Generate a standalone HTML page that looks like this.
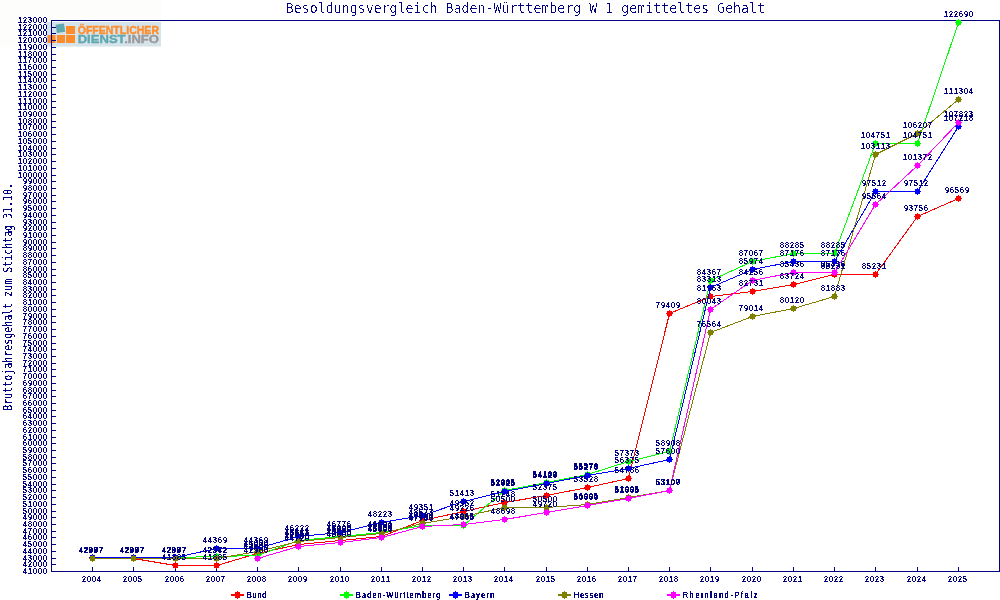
<!DOCTYPE html>
<html lang="de"><head><meta charset="utf-8"><title>Besoldungsvergleich Baden-Württemberg W 1 gemitteltes Gehalt</title>
<style>html,body{margin:0;padding:0;background:#fff}body{width:1000px;height:600px;overflow:hidden}svg{display:block}.s{font-family:"Liberation Sans",sans-serif;font-size:8px;font-weight:normal;letter-spacing:1.23px;font-kerning:none;fill:#000080}.m{font-family:"DejaVu Sans Mono","Liberation Mono",monospace;font-size:9.9659px;fill:#000080}.t{font-family:"DejaVu Sans Mono","Liberation Mono",monospace;font-size:13.2879px;fill:#000080}.lg{font-family:"Liberation Sans",sans-serif;font-weight:bold;font-size:10.5px;stroke-width:0.35px}</style></head><body>
<svg width="1000" height="600" viewBox="0 0 1000 600">
<defs><filter id="f2" x="-2%" y="-2%" width="104%" height="104%" color-interpolation-filters="sRGB"><feComponentTransfer><feFuncA type="discrete" tableValues="0 1 1 1"/></feComponentTransfer></filter><filter id="f1" x="-2%" y="-2%" width="104%" height="104%" color-interpolation-filters="sRGB"><feComponentTransfer><feFuncA type="discrete" tableValues="0 1"/></feComponentTransfer></filter><filter id="f3" x="-2%" y="-10%" width="104%" height="120%" color-interpolation-filters="sRGB"><feComponentTransfer><feFuncA type="discrete" tableValues="0 0 0 1 1"/></feComponentTransfer></filter><filter id="f4" x="-2%" y="-2%" width="104%" height="104%" color-interpolation-filters="sRGB"><feComponentTransfer><feFuncA type="discrete" tableValues="0 0 1 1 1"/></feComponentTransfer></filter></defs>
<rect width="1000" height="600" fill="#ffffff"/>
<rect x="0" y="0" width="161" height="47" fill="#fdfdfb"/>
<g id="logo">
<rect x="46" y="22" width="115" height="24.5" fill="#d6e3ea"/>
<rect x="66" y="26" width="9" height="8" fill="#ff8c2a"/>
<rect x="47.5" y="35" width="8" height="8" fill="#ff8c2a"/>
<rect x="57" y="35" width="8" height="8" fill="#ff8c2a"/>
<rect x="66" y="35" width="9" height="8" fill="#ff8c2a"/>
<rect x="56.2" y="24" width="8.4" height="8.4" fill="#5fa8b0" transform="rotate(-9 60.4 28.2)"/>
<text class="lg" x="77.7" y="33.6" fill="#ff8c2a" stroke="#ff8c2a" textLength="81.3" lengthAdjust="spacingAndGlyphs">ÖFFENTLICHER</text>
<text class="lg" x="77.7" y="43" textLength="81.3" lengthAdjust="spacingAndGlyphs"><tspan fill="#5fa8b0" stroke="#5fa8b0">DIENST</tspan><tspan fill="#9a9a9a" stroke="#9a9a9a">.INFO</tspan></text>
</g>
<g shape-rendering="crispEdges" stroke="#000080" stroke-width="1" fill="none">
<rect x="51.5" y="20.5" width="948" height="551"/>
<path d="M52 571.5h4M52 564.5h4M52 558.5h4M52 551.5h4M52 544.5h4M52 537.5h4M52 531.5h4M52 524.5h4M52 517.5h4M52 511.5h4M52 504.5h4M52 497.5h4M52 490.5h4M52 484.5h4M52 477.5h4M52 470.5h4M52 463.5h4M52 457.5h4M52 450.5h4M52 443.5h4M52 437.5h4M52 430.5h4M52 423.5h4M52 416.5h4M52 410.5h4M52 403.5h4M52 396.5h4M52 390.5h4M52 383.5h4M52 376.5h4M52 369.5h4M52 363.5h4M52 356.5h4M52 349.5h4M52 343.5h4M52 336.5h4M52 329.5h4M52 322.5h4M52 316.5h4M52 309.5h4M52 302.5h4M52 295.5h4M52 289.5h4M52 282.5h4M52 275.5h4M52 269.5h4M52 262.5h4M52 255.5h4M52 248.5h4M52 242.5h4M52 235.5h4M52 228.5h4M52 222.5h4M52 215.5h4M52 208.5h4M52 201.5h4M52 195.5h4M52 188.5h4M52 181.5h4M52 175.5h4M52 168.5h4M52 161.5h4M52 154.5h4M52 148.5h4M52 141.5h4M52 134.5h4M52 127.5h4M52 121.5h4M52 114.5h4M52 107.5h4M52 101.5h4M52 94.5h4M52 87.5h4M52 80.5h4M52 74.5h4M52 67.5h4M52 60.5h4M52 54.5h4M52 47.5h4M52 40.5h4M52 33.5h4M52 27.5h4M52 20.5h4M92.5 571v-4M133.5 571v-4M175.5 571v-4M216.5 571v-4M257.5 571v-4M298.5 571v-4M340.5 571v-4M381.5 571v-4M422.5 571v-4M463.5 571v-4M504.5 571v-4M546.5 571v-4M587.5 571v-4M628.5 571v-4M669.5 571v-4M710.5 571v-4M752.5 571v-4M793.5 571v-4M834.5 571v-4M875.5 571v-4M917.5 571v-4M958.5 571v-4"/>
</g>
<g class="s" filter="url(#f2)" transform="scale(0.88 1.22)">
<text x="26.14" y="470.66">41000</text>
<text x="26.14" y="464.92">42000</text>
<text x="26.14" y="460.00">43000</text>
<text x="26.14" y="454.26">44000</text>
<text x="26.14" y="448.52">45000</text>
<text x="26.14" y="442.79">46000</text>
<text x="26.14" y="437.87">47000</text>
<text x="26.14" y="432.13">48000</text>
<text x="26.14" y="426.39">49000</text>
<text x="26.14" y="421.48">50000</text>
<text x="26.14" y="415.74">51000</text>
<text x="26.14" y="410.00">52000</text>
<text x="26.14" y="404.26">53000</text>
<text x="26.14" y="399.34">54000</text>
<text x="26.14" y="393.61">55000</text>
<text x="26.14" y="387.87">56000</text>
<text x="26.14" y="382.13">57000</text>
<text x="26.14" y="377.21">58000</text>
<text x="26.14" y="371.48">59000</text>
<text x="26.14" y="365.74">60000</text>
<text x="26.14" y="360.82">61000</text>
<text x="26.14" y="355.08">62000</text>
<text x="26.14" y="349.34">63000</text>
<text x="26.14" y="343.61">64000</text>
<text x="26.14" y="338.69">65000</text>
<text x="26.14" y="332.95">66000</text>
<text x="26.14" y="327.21">67000</text>
<text x="26.14" y="322.30">68000</text>
<text x="26.14" y="316.56">69000</text>
<text x="26.14" y="310.82">70000</text>
<text x="26.14" y="305.08">71000</text>
<text x="26.14" y="300.16">72000</text>
<text x="26.14" y="294.43">73000</text>
<text x="26.14" y="288.69">74000</text>
<text x="26.14" y="283.77">75000</text>
<text x="26.14" y="278.03">76000</text>
<text x="26.14" y="272.30">77000</text>
<text x="26.14" y="266.56">78000</text>
<text x="26.14" y="261.64">79000</text>
<text x="26.14" y="255.90">80000</text>
<text x="26.14" y="250.16">81000</text>
<text x="26.14" y="244.43">82000</text>
<text x="26.14" y="239.51">83000</text>
<text x="26.14" y="233.77">84000</text>
<text x="26.14" y="228.03">85000</text>
<text x="26.14" y="223.11">86000</text>
<text x="26.14" y="217.38">87000</text>
<text x="26.14" y="211.64">88000</text>
<text x="26.14" y="205.90">89000</text>
<text x="26.14" y="200.98">90000</text>
<text x="26.14" y="195.25">91000</text>
<text x="26.14" y="189.51">92000</text>
<text x="26.14" y="184.59">93000</text>
<text x="26.14" y="178.85">94000</text>
<text x="26.14" y="173.11">95000</text>
<text x="26.14" y="167.38">96000</text>
<text x="26.14" y="162.46">97000</text>
<text x="26.14" y="156.72">98000</text>
<text x="26.14" y="150.98">99000</text>
<text x="20.45" y="146.07">100000</text>
<text x="20.45" y="140.33">101000</text>
<text x="20.45" y="134.59">102000</text>
<text x="20.45" y="128.85">103000</text>
<text x="20.45" y="123.93">104000</text>
<text x="20.45" y="118.20">105000</text>
<text x="20.45" y="112.46">106000</text>
<text x="20.45" y="106.72">107000</text>
<text x="20.45" y="101.80">108000</text>
<text x="20.45" y="96.07">109000</text>
<text x="20.45" y="90.33">110000</text>
<text x="20.45" y="85.41">111000</text>
<text x="20.45" y="79.67">112000</text>
<text x="20.45" y="73.93">113000</text>
<text x="20.45" y="68.20">114000</text>
<text x="20.45" y="63.28">115000</text>
<text x="20.45" y="57.54">116000</text>
<text x="20.45" y="51.80">117000</text>
<text x="20.45" y="46.89">118000</text>
<text x="20.45" y="41.15">119000</text>
<text x="20.45" y="35.41">120000</text>
<text x="20.45" y="29.67">121000</text>
<text x="20.45" y="24.75">122000</text>
<text x="20.45" y="19.02">123000</text>
<text x="93.18" y="477.05">2004</text>
<text x="139.77" y="477.05">2005</text>
<text x="187.50" y="477.05">2006</text>
<text x="234.09" y="477.05">2007</text>
<text x="280.68" y="477.05">2008</text>
<text x="327.27" y="477.05">2009</text>
<text x="375.00" y="477.05">2010</text>
<text x="421.59" y="477.05">2011</text>
<text x="468.18" y="477.05">2012</text>
<text x="514.77" y="477.05">2013</text>
<text x="561.36" y="477.05">2014</text>
<text x="609.09" y="477.05">2015</text>
<text x="655.68" y="477.05">2016</text>
<text x="702.27" y="477.05">2017</text>
<text x="748.86" y="477.05">2018</text>
<text x="795.45" y="477.05">2019</text>
<text x="843.18" y="477.05">2020</text>
<text x="889.77" y="477.05">2021</text>
<text x="936.36" y="477.05">2022</text>
<text x="982.95" y="477.05">2023</text>
<text x="1030.68" y="477.05">2024</text>
<text x="1077.27" y="477.05">2025</text>
</g>
<g shape-rendering="crispEdges">
<polyline fill="none" stroke="#ff0000" stroke-width="1" points="92.5,558.5 133.5,558.5 175.5,565.5 216.5,565.5 257.5,553.5 298.5,544.5 340.5,540.5 381.5,536.5 422.5,520.5 463.5,511.5 504.5,502.5 546.5,495.5 587.5,487.5 628.5,478.5 669.5,313.5 710.5,296.5 752.5,291.5 793.5,284.5 834.5,274.5 875.5,274.5 917.5,216.5 958.5,198.5"/>
<path fill="#ff0000" d="M90 556h5v5h-5zM89 558h7v1h-7zM92 555h1v7h-1z"/>
<path fill="#ff0000" d="M131 556h5v5h-5zM130 558h7v1h-7zM133 555h1v7h-1z"/>
<path fill="#ff0000" d="M173 563h5v5h-5zM172 565h7v1h-7zM175 562h1v7h-1z"/>
<path fill="#ff0000" d="M214 563h5v5h-5zM213 565h7v1h-7zM216 562h1v7h-1z"/>
<path fill="#ff0000" d="M255 551h5v5h-5zM254 553h7v1h-7zM257 550h1v7h-1z"/>
<path fill="#ff0000" d="M296 542h5v5h-5zM295 544h7v1h-7zM298 541h1v7h-1z"/>
<path fill="#ff0000" d="M338 538h5v5h-5zM337 540h7v1h-7zM340 537h1v7h-1z"/>
<path fill="#ff0000" d="M379 534h5v5h-5zM378 536h7v1h-7zM381 533h1v7h-1z"/>
<path fill="#ff0000" d="M420 518h5v5h-5zM419 520h7v1h-7zM422 517h1v7h-1z"/>
<path fill="#ff0000" d="M461 509h5v5h-5zM460 511h7v1h-7zM463 508h1v7h-1z"/>
<path fill="#ff0000" d="M502 500h5v5h-5zM501 502h7v1h-7zM504 499h1v7h-1z"/>
<path fill="#ff0000" d="M544 493h5v5h-5zM543 495h7v1h-7zM546 492h1v7h-1z"/>
<path fill="#ff0000" d="M585 485h5v5h-5zM584 487h7v1h-7zM587 484h1v7h-1z"/>
<path fill="#ff0000" d="M626 476h5v5h-5zM625 478h7v1h-7zM628 475h1v7h-1z"/>
<path fill="#ff0000" d="M667 311h5v5h-5zM666 313h7v1h-7zM669 310h1v7h-1z"/>
<path fill="#ff0000" d="M708 294h5v5h-5zM707 296h7v1h-7zM710 293h1v7h-1z"/>
<path fill="#ff0000" d="M750 289h5v5h-5zM749 291h7v1h-7zM752 288h1v7h-1z"/>
<path fill="#ff0000" d="M791 282h5v5h-5zM790 284h7v1h-7zM793 281h1v7h-1z"/>
<path fill="#ff0000" d="M832 272h5v5h-5zM831 274h7v1h-7zM834 271h1v7h-1z"/>
<path fill="#ff0000" d="M873 272h5v5h-5zM872 274h7v1h-7zM875 271h1v7h-1z"/>
<path fill="#ff0000" d="M915 214h5v5h-5zM914 216h7v1h-7zM917 213h1v7h-1z"/>
<path fill="#ff0000" d="M956 196h5v5h-5zM955 198h7v1h-7zM958 195h1v7h-1z"/>
<polyline fill="none" stroke="#00ff00" stroke-width="1" points="92.5,557.5 133.5,557.5 175.5,557.5 216.5,556.5 257.5,555.5 298.5,540.5 340.5,536.5 381.5,532.5 422.5,525.5 463.5,525.5 504.5,490.5 546.5,482.5 587.5,474.5 628.5,461.5 669.5,451.5 710.5,280.5 752.5,261.5 793.5,253.5 834.5,253.5 875.5,143.5 917.5,143.5 958.5,22.5"/>
<path fill="#00ff00" d="M90 555h5v5h-5zM89 557h7v1h-7zM92 554h1v7h-1z"/>
<path fill="#00ff00" d="M131 555h5v5h-5zM130 557h7v1h-7zM133 554h1v7h-1z"/>
<path fill="#00ff00" d="M173 555h5v5h-5zM172 557h7v1h-7zM175 554h1v7h-1z"/>
<path fill="#00ff00" d="M214 554h5v5h-5zM213 556h7v1h-7zM216 553h1v7h-1z"/>
<path fill="#00ff00" d="M255 553h5v5h-5zM254 555h7v1h-7zM257 552h1v7h-1z"/>
<path fill="#00ff00" d="M296 538h5v5h-5zM295 540h7v1h-7zM298 537h1v7h-1z"/>
<path fill="#00ff00" d="M338 534h5v5h-5zM337 536h7v1h-7zM340 533h1v7h-1z"/>
<path fill="#00ff00" d="M379 530h5v5h-5zM378 532h7v1h-7zM381 529h1v7h-1z"/>
<path fill="#00ff00" d="M420 523h5v5h-5zM419 525h7v1h-7zM422 522h1v7h-1z"/>
<path fill="#00ff00" d="M461 523h5v5h-5zM460 525h7v1h-7zM463 522h1v7h-1z"/>
<path fill="#00ff00" d="M502 488h5v5h-5zM501 490h7v1h-7zM504 487h1v7h-1z"/>
<path fill="#00ff00" d="M544 480h5v5h-5zM543 482h7v1h-7zM546 479h1v7h-1z"/>
<path fill="#00ff00" d="M585 472h5v5h-5zM584 474h7v1h-7zM587 471h1v7h-1z"/>
<path fill="#00ff00" d="M626 459h5v5h-5zM625 461h7v1h-7zM628 458h1v7h-1z"/>
<path fill="#00ff00" d="M667 449h5v5h-5zM666 451h7v1h-7zM669 448h1v7h-1z"/>
<path fill="#00ff00" d="M708 278h5v5h-5zM707 280h7v1h-7zM710 277h1v7h-1z"/>
<path fill="#00ff00" d="M750 259h5v5h-5zM749 261h7v1h-7zM752 258h1v7h-1z"/>
<path fill="#00ff00" d="M791 251h5v5h-5zM790 253h7v1h-7zM793 250h1v7h-1z"/>
<path fill="#00ff00" d="M832 251h5v5h-5zM831 253h7v1h-7zM834 250h1v7h-1z"/>
<path fill="#00ff00" d="M873 141h5v5h-5zM872 143h7v1h-7zM875 140h1v7h-1z"/>
<path fill="#00ff00" d="M915 141h5v5h-5zM914 143h7v1h-7zM917 140h1v7h-1z"/>
<path fill="#00ff00" d="M956 20h5v5h-5zM955 22h7v1h-7zM958 19h1v7h-1z"/>
<polyline fill="none" stroke="#0000ff" stroke-width="1" points="92.5,557.5 133.5,557.5 175.5,557.5 216.5,548.5 257.5,548.5 298.5,536.5 340.5,532.5 381.5,522.5 422.5,515.5 463.5,501.5 504.5,491.5 546.5,483.5 587.5,475.5 628.5,468.5 669.5,459.5 710.5,287.5 752.5,269.5 793.5,261.5 834.5,261.5 875.5,191.5 917.5,191.5 958.5,126.5"/>
<path fill="#0000ff" d="M90 555h5v5h-5zM89 557h7v1h-7zM92 554h1v7h-1z"/>
<path fill="#0000ff" d="M131 555h5v5h-5zM130 557h7v1h-7zM133 554h1v7h-1z"/>
<path fill="#0000ff" d="M173 555h5v5h-5zM172 557h7v1h-7zM175 554h1v7h-1z"/>
<path fill="#0000ff" d="M214 546h5v5h-5zM213 548h7v1h-7zM216 545h1v7h-1z"/>
<path fill="#0000ff" d="M255 546h5v5h-5zM254 548h7v1h-7zM257 545h1v7h-1z"/>
<path fill="#0000ff" d="M296 534h5v5h-5zM295 536h7v1h-7zM298 533h1v7h-1z"/>
<path fill="#0000ff" d="M338 530h5v5h-5zM337 532h7v1h-7zM340 529h1v7h-1z"/>
<path fill="#0000ff" d="M379 520h5v5h-5zM378 522h7v1h-7zM381 519h1v7h-1z"/>
<path fill="#0000ff" d="M420 513h5v5h-5zM419 515h7v1h-7zM422 512h1v7h-1z"/>
<path fill="#0000ff" d="M461 499h5v5h-5zM460 501h7v1h-7zM463 498h1v7h-1z"/>
<path fill="#0000ff" d="M502 489h5v5h-5zM501 491h7v1h-7zM504 488h1v7h-1z"/>
<path fill="#0000ff" d="M544 481h5v5h-5zM543 483h7v1h-7zM546 480h1v7h-1z"/>
<path fill="#0000ff" d="M585 473h5v5h-5zM584 475h7v1h-7zM587 472h1v7h-1z"/>
<path fill="#0000ff" d="M626 466h5v5h-5zM625 468h7v1h-7zM628 465h1v7h-1z"/>
<path fill="#0000ff" d="M667 457h5v5h-5zM666 459h7v1h-7zM669 456h1v7h-1z"/>
<path fill="#0000ff" d="M708 285h5v5h-5zM707 287h7v1h-7zM710 284h1v7h-1z"/>
<path fill="#0000ff" d="M750 267h5v5h-5zM749 269h7v1h-7zM752 266h1v7h-1z"/>
<path fill="#0000ff" d="M791 259h5v5h-5zM790 261h7v1h-7zM793 258h1v7h-1z"/>
<path fill="#0000ff" d="M832 259h5v5h-5zM831 261h7v1h-7zM834 258h1v7h-1z"/>
<path fill="#0000ff" d="M873 189h5v5h-5zM872 191h7v1h-7zM875 188h1v7h-1z"/>
<path fill="#0000ff" d="M915 189h5v5h-5zM914 191h7v1h-7zM917 188h1v7h-1z"/>
<path fill="#0000ff" d="M956 124h5v5h-5zM955 126h7v1h-7zM958 123h1v7h-1z"/>
<polyline fill="none" stroke="#808000" stroke-width="1" points="92.5,558.5 133.5,558.5 175.5,558.5 216.5,558.5 257.5,551.5 298.5,541.5 340.5,537.5 381.5,533.5 422.5,523.5 463.5,516.5 504.5,507.5 546.5,507.5 587.5,504.5 628.5,497.5 669.5,490.5 710.5,332.5 752.5,316.5 793.5,308.5 834.5,296.5 875.5,154.5 917.5,133.5 958.5,99.5"/>
<path fill="#808000" d="M90 556h5v5h-5zM89 558h7v1h-7zM92 555h1v7h-1z"/>
<path fill="#808000" d="M131 556h5v5h-5zM130 558h7v1h-7zM133 555h1v7h-1z"/>
<path fill="#808000" d="M173 556h5v5h-5zM172 558h7v1h-7zM175 555h1v7h-1z"/>
<path fill="#808000" d="M214 556h5v5h-5zM213 558h7v1h-7zM216 555h1v7h-1z"/>
<path fill="#808000" d="M255 549h5v5h-5zM254 551h7v1h-7zM257 548h1v7h-1z"/>
<path fill="#808000" d="M296 539h5v5h-5zM295 541h7v1h-7zM298 538h1v7h-1z"/>
<path fill="#808000" d="M338 535h5v5h-5zM337 537h7v1h-7zM340 534h1v7h-1z"/>
<path fill="#808000" d="M379 531h5v5h-5zM378 533h7v1h-7zM381 530h1v7h-1z"/>
<path fill="#808000" d="M420 521h5v5h-5zM419 523h7v1h-7zM422 520h1v7h-1z"/>
<path fill="#808000" d="M461 514h5v5h-5zM460 516h7v1h-7zM463 513h1v7h-1z"/>
<path fill="#808000" d="M502 505h5v5h-5zM501 507h7v1h-7zM504 504h1v7h-1z"/>
<path fill="#808000" d="M544 505h5v5h-5zM543 507h7v1h-7zM546 504h1v7h-1z"/>
<path fill="#808000" d="M585 502h5v5h-5zM584 504h7v1h-7zM587 501h1v7h-1z"/>
<path fill="#808000" d="M626 495h5v5h-5zM625 497h7v1h-7zM628 494h1v7h-1z"/>
<path fill="#808000" d="M667 488h5v5h-5zM666 490h7v1h-7zM669 487h1v7h-1z"/>
<path fill="#808000" d="M708 330h5v5h-5zM707 332h7v1h-7zM710 329h1v7h-1z"/>
<path fill="#808000" d="M750 314h5v5h-5zM749 316h7v1h-7zM752 313h1v7h-1z"/>
<path fill="#808000" d="M791 306h5v5h-5zM790 308h7v1h-7zM793 305h1v7h-1z"/>
<path fill="#808000" d="M832 294h5v5h-5zM831 296h7v1h-7zM834 293h1v7h-1z"/>
<path fill="#808000" d="M873 152h5v5h-5zM872 154h7v1h-7zM875 151h1v7h-1z"/>
<path fill="#808000" d="M915 131h5v5h-5zM914 133h7v1h-7zM917 130h1v7h-1z"/>
<path fill="#808000" d="M956 97h5v5h-5zM955 99h7v1h-7zM958 96h1v7h-1z"/>
<polyline fill="none" stroke="#ff00ff" stroke-width="1" points="257.5,558.5 298.5,546.5 340.5,542.5 381.5,537.5 422.5,526.5 463.5,524.5 504.5,519.5 546.5,512.5 587.5,505.5 628.5,498.5 669.5,490.5 710.5,309.5 752.5,280.5 793.5,272.5 834.5,272.5 875.5,204.5 917.5,165.5 958.5,122.5"/>
<path fill="#ff00ff" d="M255 556h5v5h-5zM254 558h7v1h-7zM257 555h1v7h-1z"/>
<path fill="#ff00ff" d="M296 544h5v5h-5zM295 546h7v1h-7zM298 543h1v7h-1z"/>
<path fill="#ff00ff" d="M338 540h5v5h-5zM337 542h7v1h-7zM340 539h1v7h-1z"/>
<path fill="#ff00ff" d="M379 535h5v5h-5zM378 537h7v1h-7zM381 534h1v7h-1z"/>
<path fill="#ff00ff" d="M420 524h5v5h-5zM419 526h7v1h-7zM422 523h1v7h-1z"/>
<path fill="#ff00ff" d="M461 522h5v5h-5zM460 524h7v1h-7zM463 521h1v7h-1z"/>
<path fill="#ff00ff" d="M502 517h5v5h-5zM501 519h7v1h-7zM504 516h1v7h-1z"/>
<path fill="#ff00ff" d="M544 510h5v5h-5zM543 512h7v1h-7zM546 509h1v7h-1z"/>
<path fill="#ff00ff" d="M585 503h5v5h-5zM584 505h7v1h-7zM587 502h1v7h-1z"/>
<path fill="#ff00ff" d="M626 496h5v5h-5zM625 498h7v1h-7zM628 495h1v7h-1z"/>
<path fill="#ff00ff" d="M667 488h5v5h-5zM666 490h7v1h-7zM669 487h1v7h-1z"/>
<path fill="#ff00ff" d="M708 307h5v5h-5zM707 309h7v1h-7zM710 306h1v7h-1z"/>
<path fill="#ff00ff" d="M750 278h5v5h-5zM749 280h7v1h-7zM752 277h1v7h-1z"/>
<path fill="#ff00ff" d="M791 270h5v5h-5zM790 272h7v1h-7zM793 269h1v7h-1z"/>
<path fill="#ff00ff" d="M832 270h5v5h-5zM831 272h7v1h-7zM834 269h1v7h-1z"/>
<path fill="#ff00ff" d="M873 202h5v5h-5zM872 204h7v1h-7zM875 201h1v7h-1z"/>
<path fill="#ff00ff" d="M915 163h5v5h-5zM914 165h7v1h-7zM917 162h1v7h-1z"/>
<path fill="#ff00ff" d="M956 120h5v5h-5zM955 122h7v1h-7zM958 119h1v7h-1z"/>
</g>
<g class="s" filter="url(#f2)" transform="scale(0.88 1.22)">
<text x="89.77" y="453.28">42977</text>
<text x="136.36" y="453.28">42977</text>
<text x="184.09" y="459.02">41885</text>
<text x="230.68" y="459.02">41885</text>
<text x="277.27" y="449.18">43650</text>
<text x="323.86" y="441.80">44950</text>
<text x="371.59" y="438.52">45550</text>
<text x="418.18" y="435.25">46200</text>
<text x="464.77" y="422.13">48573</text>
<text x="511.36" y="414.75">49952</text>
<text x="557.95" y="407.38">51248</text>
<text x="605.68" y="401.64">52375</text>
<text x="652.27" y="395.08">53528</text>
<text x="698.86" y="387.70">54786</text>
<text x="745.45" y="252.46">79409</text>
<text x="792.05" y="238.52">81963</text>
<text x="839.77" y="234.43">82731</text>
<text x="886.36" y="228.69">83724</text>
<text x="932.95" y="220.49">85231</text>
<text x="979.55" y="220.49">85231</text>
<text x="1027.27" y="172.95">93756</text>
<text x="1073.86" y="158.20">96569</text>
<text x="89.77" y="453.28">42987</text>
<text x="136.36" y="453.28">42987</text>
<text x="184.09" y="453.28">42987</text>
<text x="230.68" y="453.28">42972</text>
<text x="277.27" y="450.82">43400</text>
<text x="323.86" y="438.52">45613</text>
<text x="371.59" y="435.25">46208</text>
<text x="418.18" y="431.97">46804</text>
<text x="464.77" y="426.23">47900</text>
<text x="511.36" y="426.23">47865</text>
<text x="557.95" y="397.54">52985</text>
<text x="605.68" y="390.98">54189</text>
<text x="652.27" y="384.43">55378</text>
<text x="698.86" y="373.77">57373</text>
<text x="745.45" y="365.57">58908</text>
<text x="792.05" y="225.41">84367</text>
<text x="839.77" y="209.84">87067</text>
<text x="886.36" y="203.28">88285</text>
<text x="932.95" y="203.28">88285</text>
<text x="978.41" y="113.11">104751</text>
<text x="1026.14" y="113.11">104751</text>
<text x="1072.73" y="13.93">122690</text>
<text x="89.77" y="453.28">42997</text>
<text x="136.36" y="453.28">42997</text>
<text x="184.09" y="453.28">42997</text>
<text x="230.68" y="445.08">44369</text>
<text x="277.27" y="445.08">44369</text>
<text x="323.86" y="435.25">46222</text>
<text x="371.59" y="431.97">46776</text>
<text x="418.18" y="423.77">48223</text>
<text x="464.77" y="418.03">49351</text>
<text x="511.36" y="406.56">51413</text>
<text x="557.95" y="398.36">52925</text>
<text x="605.68" y="391.80">54129</text>
<text x="652.27" y="385.25">55273</text>
<text x="698.86" y="379.51">56375</text>
<text x="745.45" y="372.13">57600</text>
<text x="792.05" y="231.15">83313</text>
<text x="839.77" y="216.39">85974</text>
<text x="886.36" y="209.84">87176</text>
<text x="932.95" y="209.84">87176</text>
<text x="979.55" y="152.46">97512</text>
<text x="1027.27" y="152.46">97512</text>
<text x="1072.73" y="99.18">107218</text>
<text x="89.77" y="453.28">42977</text>
<text x="136.36" y="453.28">42977</text>
<text x="184.09" y="453.28">42977</text>
<text x="230.68" y="453.28">42942</text>
<text x="277.27" y="447.54">44050</text>
<text x="323.86" y="439.34">45464</text>
<text x="371.59" y="436.07">46060</text>
<text x="418.18" y="432.79">46650</text>
<text x="464.77" y="424.59">48200</text>
<text x="511.36" y="418.85">49226</text>
<text x="557.95" y="411.48">50500</text>
<text x="605.68" y="411.48">50500</text>
<text x="652.27" y="409.02">51005</text>
<text x="698.86" y="403.28">52005</text>
<text x="745.45" y="397.54">53107</text>
<text x="792.05" y="268.03">76564</text>
<text x="839.77" y="254.92">79014</text>
<text x="886.36" y="248.36">80120</text>
<text x="932.95" y="238.52">81883</text>
<text x="978.41" y="122.13">103113</text>
<text x="1026.14" y="104.92">106207</text>
<text x="1072.73" y="77.05">111304</text>
<text x="277.27" y="453.28">42900</text>
<text x="323.86" y="443.44">44720</text>
<text x="371.59" y="440.16">45300</text>
<text x="418.18" y="436.07">45996</text>
<text x="464.77" y="427.05">47768</text>
<text x="511.36" y="425.41">48065</text>
<text x="557.95" y="421.31">48698</text>
<text x="605.68" y="415.57">49720</text>
<text x="652.27" y="409.84">50869</text>
<text x="698.86" y="404.10">51885</text>
<text x="745.45" y="397.54">53100</text>
<text x="792.05" y="249.18">80043</text>
<text x="839.77" y="225.41">84256</text>
<text x="886.36" y="218.85">85436</text>
<text x="932.95" y="218.85">85436</text>
<text x="979.55" y="163.11">95564</text>
<text x="1026.14" y="131.15">101372</text>
<text x="1072.73" y="95.90">107823</text>
</g>
<g>
<g shape-rendering="crispEdges"><rect x="231" y="594" width="13" height="2" fill="#ff0000"/><path fill="#ff0000" d="M235 592h5v6h-5zM237 591h1v8h-1z"/></g>
<g shape-rendering="crispEdges"><rect x="340" y="594" width="13" height="2" fill="#00ff00"/><path fill="#00ff00" d="M344 592h5v6h-5zM346 591h1v8h-1z"/></g>
<g shape-rendering="crispEdges"><rect x="449" y="594" width="13" height="2" fill="#0000ff"/><path fill="#0000ff" d="M453 592h5v6h-5zM455 591h1v8h-1z"/></g>
<g shape-rendering="crispEdges"><rect x="558" y="594" width="13" height="2" fill="#808000"/><path fill="#808000" d="M562 592h5v6h-5zM564 591h1v8h-1z"/></g>
<g shape-rendering="crispEdges"><rect x="667" y="594" width="13" height="2" fill="#ff00ff"/><path fill="#ff00ff" d="M671 592h5v6h-5zM673 591h1v8h-1z"/></g>
</g>
<g class="s" filter="url(#f2)" transform="scale(0.88 1.22)">
<text x="280.68" y="490.16" textLength="23.1" lengthAdjust="spacing">Bund</text>
<text x="404.55" y="490.16" textLength="96.9" lengthAdjust="spacing">Baden-Württemberg</text>
<text x="528.41" y="490.16" textLength="34.4" lengthAdjust="spacing">Bayern</text>
<text x="652.27" y="490.16" textLength="34.4" lengthAdjust="spacing">Hessen</text>
<text x="776.14" y="490.16" textLength="85.6" lengthAdjust="spacing">Rheinland-Pfalz</text>
</g>
<text class="t" filter="url(#f3)" x="285.8" y="13">Besoldungsvergleich Baden-Württemberg W 1 gemitteltes Gehalt</text>
<g filter="url(#f4)"><text class="m" transform="translate(11.75 410.75) rotate(-90) scale(1 1.2)">Bruttojahresgehalt zum Stichtag 31.10.</text></g>
</svg></body></html>
